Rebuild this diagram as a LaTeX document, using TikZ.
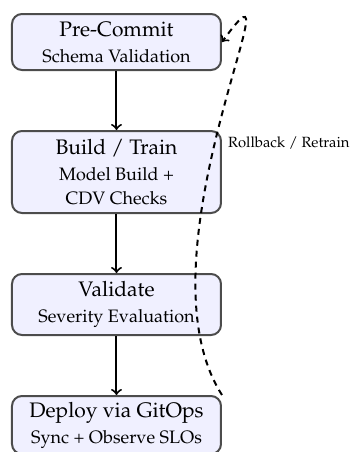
\documentclass[tikz,border=0pt]{standalone}
\usepackage[T1]{fontenc}
\usepackage{mathpazo}
\usepackage{tikz}
\usetikzlibrary{positioning}

\newcommand{\stagetitle}[1]{{\fontsize{10.5}{12.5}\selectfont #1}}
\newcommand{\stagesub}[1]{{\small #1}}

\tikzset{
  stage/.style={draw=black!70, fill=blue!6, rounded corners=5pt, line width=1pt,
    minimum width=104.5pt, align=center, inner sep=2pt},
  flow/.style={->, line width=1pt},
  loopback/.style={->, dash pattern=on 3pt off 2.5pt, line width=1pt}
}

\begin{document}
\begin{tikzpicture}[node distance=29.5pt]
				\useasboundingbox (0,0) rectangle (175pt,226pt);
				
				\node[stage, minimum height=28pt] (precommit) at (58.25pt,205pt)
				  {\stagetitle{Pre-Commit}\\[1pt]\stagesub{Schema Validation}};
				\node[stage, minimum height=41pt, below=of precommit] (build)
				  {\stagetitle{Build / Train}\\[1pt]\stagesub{Model Build +}\\\stagesub{CDV Checks}};
				\node[stage, minimum height=30.5pt, below=of build] (validate)
				  {\stagetitle{Validate}\\[1pt]\stagesub{Severity Evaluation}};
				\node[stage, minimum height=29pt, below=of validate] (deploy)
				  {\stagetitle{Deploy via GitOps}\\[1pt]\stagesub{Sync + Observe SLOs}};
				
				\draw[flow] (precommit) -- (build);
				\draw[flow] (build) -- (validate);
				\draw[flow] (validate) -- (deploy);
				
				\draw[loopback] (deploy.north east) .. controls +(-45pt,70pt) and +(42pt,58pt) ..
				  node[pos=0.46, right=3pt] (rollback) {\fontsize{7.4}{9}\selectfont Rollback / Retrain} (precommit.east);
			\end{tikzpicture}
\end{document}
